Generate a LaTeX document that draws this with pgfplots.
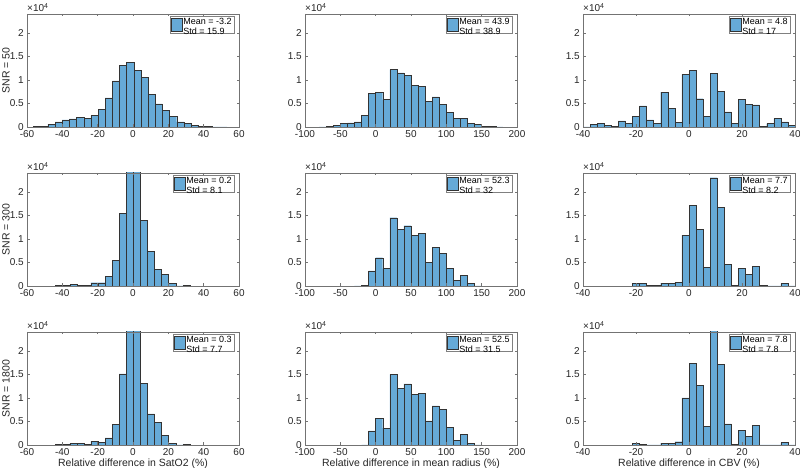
\documentclass[border=0pt]{standalone}
\usepackage{pgfplots}
\pgfplotsset{compat=1.18}
\usepackage{fontspec}
\setmainfont{Liberation Sans}
\definecolor{histblue}{RGB}{102,170,215}
\definecolor{axgray}{RGB}{38,38,38}

\pgfplotsset{
  hist/.style={
    scale only axis, width=212pt, height=113pt, anchor=south west,
    ymin=0, ymax=2.4, ytick={0,0.5,1,1.5,2}, yticklabels={0,0.5,1,1.5,2},
    axis line style={black!55, line width=0.5pt},
    major tick style={black!55, line width=0.5pt},
    major tick length=2.5pt, tick align=inside,
    tick label style={font=\fontsize{10}{12}\selectfont, text=axgray, inner sep=0pt},
    xticklabel style={yshift=-3.5pt},
    yticklabel style={xshift=-3pt},
    xlabel style={at={(axis description cs:0.5,0)}, anchor=north, inner sep=0pt, yshift=-14pt, font=\fontsize{10.5}{12}\selectfont, text=axgray},
    ylabel style={at={(axis description cs:-0.08,0.5)}, anchor=south, inner sep=0pt, font=\fontsize{10.5}{12}\selectfont, text=axgray},
    axis on top,
    legend style={at={(0.976,0.985)}, anchor=north east, draw=black!50, fill=white, font=\fontsize{9}{9.5}\selectfont, inner xsep=1pt, inner ysep=1pt, nodes={inner sep=1pt, text=black}, cells={anchor=west}},
    legend image code/.code={\draw[fill=histblue, draw=black!80, line width=0.4pt] (0pt,-6.7pt) rectangle (11pt,6.7pt);},
    after end axis/.append code={\node[anchor=south west, inner sep=0pt, font=\fontsize{10}{12}\selectfont, text=axgray] at (rel axis cs:0,1) [yshift=2pt] {×10\textsuperscript{4}};},
  },
  colA/.style={xmin=-60, xmax=60, xtick={-60,-40,-20,0,20,40,60}, xticklabels={-60,-40,-20,0,20,40,60}},
  colB/.style={xmin=-100, xmax=200, xtick={-100,-50,0,50,100,150,200}, xticklabels={-100,-50,0,50,100,150,200}},
  colC/.style={xmin=-40, xmax=40, xtick={-40,-20,0,20,40}, xticklabels={-40,-20,0,20,40}},
  histbar/.style={ybar interval, fill=histblue, draw=black!80, line width=0.4pt},
}

\begin{document}
\begin{tikzpicture}
\useasboundingbox (0,0) rectangle (800pt,468pt);

% ---------------- Row 1: SNR = 50 ----------------
\begin{axis}[hist, colA, at={(27pt,341pt)}, ylabel={SNR = 50}]
\addplot[histbar] coordinates {
(-56.25,0.01) (-52.20,0.02) (-48.15,0.06) (-44.10,0.11) (-40.05,0.15) (-36.00,0.17)
(-31.95,0.20) (-27.90,0.18) (-23.85,0.24) (-19.80,0.37) (-15.75,0.62) (-11.70,0.98)
(-7.65,1.31) (-3.60,1.38) (0.45,1.20) (4.50,1.06) (8.55,0.70) (12.60,0.49)
(16.65,0.35) (20.70,0.23) (24.75,0.11) (28.80,0.07) (32.85,0.04) (36.90,0.02)
(40.95,0.01) (45.00,0.005) (49.05,0.003) (53.10,0)};
\addlegendentry{\begin{tabular}{@{}l@{}}Mean = -3.2\\Std = 15.9\end{tabular}}
\end{axis}

\begin{axis}[hist, colB, at={(305pt,341pt)}]
\addplot[histbar] coordinates {
(-80,0.005) (-70,0.02) (-60,0.03) (-50,0.08) (-40,0.09) (-30,0.11) (-20,0.24)
(-10,0.71) (0,0.74) (10,0.58) (20,1.22) (30,1.15) (40,1.09) (50,0.88) (60,0.86)
(70,0.54) (80,0.64) (90,0.48) (100,0.31) (110,0.19) (120,0.19) (130,0.07)
(140,0.06) (150,0.02) (160,0.01) (170,0.003) (180,0)};
\addlegendentry{\begin{tabular}{@{}l@{}}Mean = 43.9\\Std = 38.9\end{tabular}}
\end{axis}

\begin{axis}[hist, colC, at={(583pt,341pt)}]
\addplot[histbar] coordinates {
(-40.000,0.005) (-37.333,0.06) (-34.667,0.08) (-32.000,0.03) (-29.333,0.02)
(-26.667,0.13) (-24.000,0.07) (-21.333,0.22) (-18.667,0.45) (-16.000,0.15)
(-13.333,0.08) (-10.667,0.74) (-8.000,0.39) (-5.333,0.10) (-2.667,1.12)
(0.000,1.20) (2.667,0.60) (5.333,0.22) (8.000,1.14) (10.667,0.75)
(13.333,0.32) (16.000,0.08) (18.667,0.58) (21.333,0.48) (24.000,0.47)
(26.667,0.01) (29.333,0.07) (32.000,0.18) (34.667,0.11) (37.333,0.03) (40.000,0)};
\addlegendentry{\begin{tabular}{@{}l@{}}Mean = 4.8\\Std = 17\end{tabular}}
\end{axis}

% ---------------- Row 2: SNR = 300 ----------------
\begin{axis}[hist, colA, at={(27pt,182pt)}, ylabel={SNR = 300}]
\addplot[histbar] coordinates {
(-43.8,0.01) (-39.8,0.02) (-35.8,0.03) (-31.8,0.02) (-27.8,0.01) (-23.8,0.07)
(-19.8,0.07) (-15.8,0.20) (-11.8,0.54) (-7.8,1.55) (-3.8,2.70) (0.2,2.60)
(4.2,1.40) (8.2,0.73) (12.2,0.35) (16.2,0.25) (20.2,0.05) (24.2,0.005)
(28.2,0.01) (32.2,0)};
\addlegendentry{\begin{tabular}{@{}l@{}}Mean = 0.2\\Std = 8.1\end{tabular}}
\end{axis}

\begin{axis}[hist, colB, at={(305pt,182pt)}]
\addplot[histbar] coordinates {
(-30,0.003) (-20,0.02) (-10,0.32) (0,0.60) (10,0.37) (20,1.45) (30,1.20)
(40,1.28) (50,1.07) (60,1.12) (70,0.50) (80,0.82) (90,0.70) (100,0.37)
(110,0.12) (120,0.22) (130,0.06) (140,0.005) (150,0)};
\addlegendentry{\begin{tabular}{@{}l@{}}Mean = 52.3\\Std = 32\end{tabular}}
\end{axis}

\begin{axis}[hist, colC, at={(583pt,182pt)}]
\addplot[histbar] coordinates {
(-21.333,0.05) (-18.667,0.05) (-16.000,0.01) (-13.333,0.01) (-10.667,0.06)
(-8.000,0.06) (-5.333,0.08) (-2.667,1.08) (0.000,1.72) (2.667,1.20)
(5.333,0.40) (8.000,2.30) (10.667,1.67) (13.333,0.46) (16.000,0.01)
(18.667,0.37) (21.333,0.25) (24.000,0.42) (26.667,0.01) (29.333,0.005)
(32.000,0.005) (34.667,0.05) (37.333,0.005) (40.000,0)};
\addlegendentry{\begin{tabular}{@{}l@{}}Mean = 7.7\\Std = 8.2\end{tabular}}
\end{axis}

% ---------------- Row 3: SNR = 1800 ----------------
\begin{axis}[hist, colA, at={(27pt,23pt)}, ylabel={SNR = 1800}, xlabel={Relative difference in SatO2 (\%)}]
\addplot[histbar] coordinates {
(-43.8,0.01) (-39.8,0.02) (-35.8,0.04) (-31.8,0.03) (-27.8,0.01) (-23.8,0.08)
(-19.8,0.06) (-15.8,0.15) (-11.8,0.44) (-7.8,1.51) (-3.8,2.70) (0.2,2.60)
(4.2,1.31) (8.2,0.66) (12.2,0.48) (16.2,0.20) (20.2,0.04) (24.2,0.005)
(28.2,0.01) (32.2,0)};
\addlegendentry{\begin{tabular}{@{}l@{}}Mean = 0.3\\Std = 7.7\end{tabular}}
\end{axis}

\begin{axis}[hist, colB, at={(305pt,23pt)}, xlabel={Relative difference in mean radius (\%)}]
\addplot[histbar] coordinates {
(-20,0.005) (-10,0.30) (0,0.57) (10,0.36) (20,1.50) (30,1.20) (40,1.30)
(50,1.08) (60,1.10) (70,0.51) (80,0.83) (90,0.76) (100,0.38) (110,0.10)
(120,0.22) (130,0.03) (140,0.003) (150,0)};
\addlegendentry{\begin{tabular}{@{}l@{}}Mean = 52.5\\Std = 31.5\end{tabular}}
\end{axis}

\begin{axis}[hist, colC, at={(583pt,23pt)}, xlabel={Relative difference in CBV (\%)}]
\addplot[histbar] coordinates {
(-21.333,0.04) (-18.667,0.02) (-16.000,0.005) (-13.333,0.005) (-10.667,0.04)
(-8.000,0.03) (-5.333,0.07) (-2.667,1.00) (0.000,1.73) (2.667,1.27)
(5.333,0.39) (8.000,2.60) (10.667,1.71) (13.333,0.45) (16.000,0.01)
(18.667,0.31) (21.333,0.18) (24.000,0.41) (26.667,0.005) (29.333,0)
(32.000,0) (34.667,0.05) (37.333,0) (40.000,0)};
\addlegendentry{\begin{tabular}{@{}l@{}}Mean = 7.8\\Std = 7.8\end{tabular}}
\end{axis}

\end{tikzpicture}
\end{document}
